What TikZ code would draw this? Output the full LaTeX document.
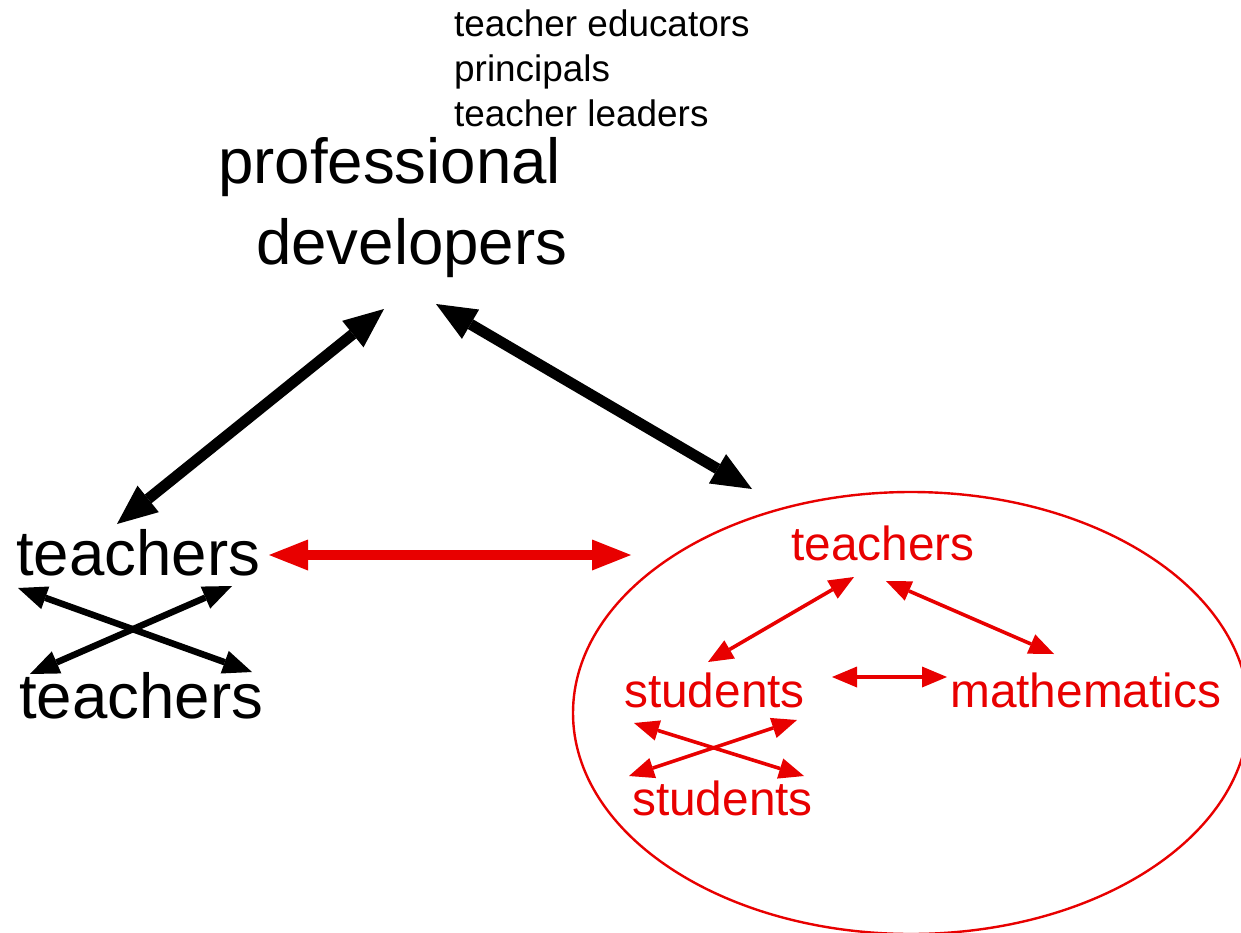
\documentclass[tikz,border=0pt]{standalone}
\usepackage{fontspec}
\setmainfont{Liberation Sans}
\usetikzlibrary{arrows.meta}
\definecolor{pdred}{RGB}{232,0,0}
\begin{document}
\begin{tikzpicture}[x=1pt,y=-1pt,
  lbl/.style={inner sep=0pt, anchor=base west},
  bigtext/.style={lbl, font=\fontsize{63.6}{75}\selectfont},
  redtext/.style={lbl, font=\fontsize{47.8}{56}\selectfont, text=pdred},
  smalltext/.style={lbl, font=\fontsize{36.9}{45}\selectfont},
  heavyarrow/.style={line width=11pt,
    {Triangle[length=40pt,width=34pt,line width=0pt]}-{Triangle[length=40pt,width=34pt,line width=0pt]}},
  redheavy/.style={draw=pdred, line width=10pt,
    {Triangle[length=39pt,width=31pt,line width=0pt]}-{Triangle[length=39pt,width=31pt,line width=0pt]}},
  crossarrow/.style={line width=6.5pt,
    {Triangle[length=29pt,width=24pt,line width=0pt]}-{Triangle[length=29pt,width=24pt,line width=0pt]}},
  redthin/.style={draw=pdred, line width=3.6pt,
    {Triangle[length=25pt,width=21pt,line width=0pt]}-{Triangle[length=25pt,width=21pt,line width=0pt]}}
]
\useasboundingbox (0,0) rectangle (1241,933);
\fill[white] (0,0) rectangle (1241,933);
\begin{scope}
\clip (0,0) rectangle (1241,933);
\draw[pdred, line width=2.4pt] (911,713) ellipse [x radius=338, y radius=221];
\end{scope}

% texts
\node[smalltext] (te) at (454,37) {teacher educators};
\node[smalltext] (pr) at (454,82) {principals};
\node[smalltext] (tl) at (454,127) {teacher leaders};
\node[bigtext] (pd1) at (218,184) {professional};
\node[bigtext] (pd2) at (256,264) {developers};
\node[bigtext] (t1) at (16,575) {teachers};
\node[bigtext] (t2) at (19,718) {teachers};
\node[redtext] (rt) at (791,560) {teachers};
\node[redtext] (s1) at (624,707) {students};
\node[redtext] (m) at (950,707) {mathematics};
\node[redtext] (s2) at (632,815) {students};

% arrow end points
\coordinate (a1s) at (117,524); \coordinate (a1e) at (384,309);
\coordinate (a2s) at (436,304); \coordinate (a2e) at (752,489);
\coordinate (rbs) at (269,555); \coordinate (rbe) at (631,555);
\coordinate (cAs) at (18,588);  \coordinate (cAe) at (252,672);
\coordinate (cBs) at (232,586); \coordinate (cBe) at (30,674);
\coordinate (tss) at (854,577); \coordinate (tse) at (708,662);
\coordinate (tms) at (886,581); \coordinate (tme) at (1054,654);
\coordinate (sms) at (832,677); \coordinate (sme) at (947,677);
\coordinate (x1s) at (634,723); \coordinate (x1e) at (804,776);
\coordinate (x2s) at (797,720); \coordinate (x2e) at (629,776);

\draw[heavyarrow] (a1s) -- (a1e);
\draw[heavyarrow] (a2s) -- (a2e);
\draw[redheavy] (rbs) -- (rbe);
\draw[crossarrow] (cAs) -- (cAe);
\draw[crossarrow] (cBs) -- (cBe);
\draw[redthin] (tss) -- (tse);
\draw[redthin] (tms) -- (tme);
\draw[redthin] (sms) -- (sme);
\draw[redthin] (x1s) -- (x1e);
\draw[redthin] (x2s) -- (x2e);
\end{tikzpicture}
\end{document}
